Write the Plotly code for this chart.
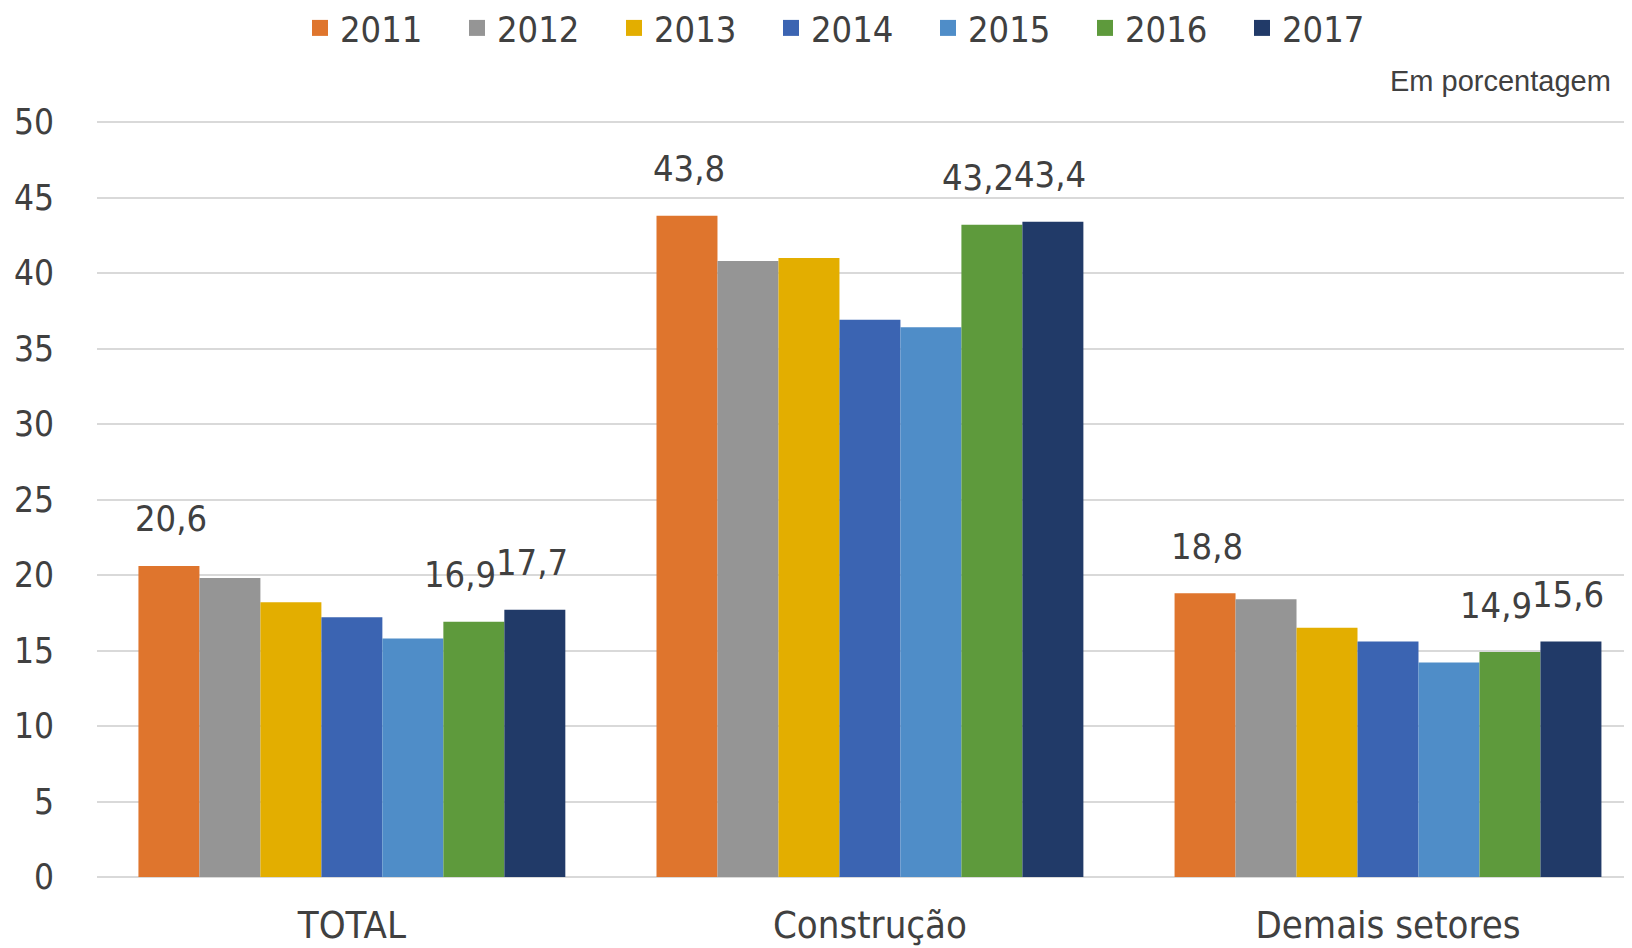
"""Grouped bar chart - percentages by sector, 2011-2017."""

import plotly.graph_objects as go

# data
categories = ["TOTAL", "Construção", "Demais setores"]
years = ["2011", "2012", "2013", "2014", "2015", "2016", "2017"]
values_2011 = [20.6, 43.8, 18.8]
values_2012 = [19.8, 40.8, 18.4]
values_2013 = [18.2, 41.0, 16.5]
values_2014 = [17.2, 36.9, 15.6]
values_2015 = [15.8, 36.4, 14.2]
values_2016 = [16.9, 43.2, 14.9]
values_2017 = [17.7, 43.4, 15.6]
series = [values_2011, values_2012, values_2013, values_2014,
          values_2015, values_2016, values_2017]
labelled_years = ["2011", "2016", "2017"]
y_ticks = [0, 5, 10, 15, 20, 25, 30, 35, 40, 45, 50]

colors = ['#DF752D', '#959595', '#E3AE00', '#3B64B2',
          '#4F8DC8', '#5E9A3C', '#213A68']
text_color = '#404040'
font_family = 'DejaVu Sans Condensed'

# the page body adds 8px, so the figure is a bit smaller than the window
width = 1624
height = 940
margin = {'l': 89, 'r': 0, 't': 111, 'b': 71}
bargap = 0.176
x_range = [-0.492, 2.471]

fig = go.Figure()
for year, vals, color in zip(years, series, colors):
    fig.add_trace(go.Bar(
        x=categories,
        y=vals,
        name=year,
        marker={'color': color, 'line': {'width': 0}},
        showlegend=False,
    ))
    # legend entry with a bigger square swatch
    fig.add_trace(go.Scatter(
        x=[None], y=[None],
        mode='markers',
        name=year,
        marker={'symbol': 'square', 'size': 22, 'color': color},
    ))

# value labels (only some years are labelled)
plot_w = width - margin['l'] - margin['r']
plot_h = height - margin['t'] - margin['b']
band = plot_w / (x_range[1] - x_range[0])
bar_w = band * (1 - bargap) / len(years)
label_nudge = {"2011": 2, "2016": -14, "2017": -3}
for i, (year, vals) in enumerate(zip(years, series)):
    if year not in labelled_years:
        continue
    for cat, v in zip(categories, vals):
        fig.add_annotation(
            x=cat, y=v,
            xshift=(i - 3) * bar_w + label_nudge[year],
            yshift=47,
            text=str(v).replace('.', ','),
            showarrow=False,
            font={'size': 36, 'color': text_color, 'family': font_family},
        )

fig.add_annotation(
    text="Em porcentagem",
    xref='paper', yref='paper',
    x=1, xanchor='right', xshift=-19,
    y=(height - margin['b'] - 73) / plot_h, yanchor='middle',
    showarrow=False,
    font={'size': 29, 'color': text_color, 'family': 'Liberation Sans'},
)

fig.update_yaxes(
    range=[0, 50.2],
    tickvals=y_ticks,
    showgrid=True,
    gridcolor='#d9d9d9',
    gridwidth=2,
    zeroline=True,
    zerolinecolor='#d9d9d9',
    zerolinewidth=2,
    showline=False,
    ticks='',
    automargin=False,
    ticklabelstandoff=42,
    tickfont={'size': 35, 'color': text_color, 'family': font_family},
)
fig.update_xaxes(
    range=x_range,
    showgrid=False,
    showline=False,
    ticks='',
    automargin=False,
    ticklabelstandoff=22,
    tickfont={'size': 38, 'color': text_color, 'family': font_family},
)

fig.update_layout(
    width=width,
    height=height,
    margin=margin,
    barmode='group',
    bargap=bargap,
    bargroupgap=0,
    plot_bgcolor='white',
    paper_bgcolor='white',
    showlegend=True,
    legend={
        'orientation': 'h',
        'xref': 'container', 'yref': 'container',
        'x': 292 / width, 'xanchor': 'left',
        'y': 1 - 20 / height, 'yanchor': 'middle',
        'entrywidth': 112,
        'font': {'size': 36, 'color': text_color, 'family': font_family},
        'itemsizing': 'trace',
    },
)

fig.write_html("out.html")
